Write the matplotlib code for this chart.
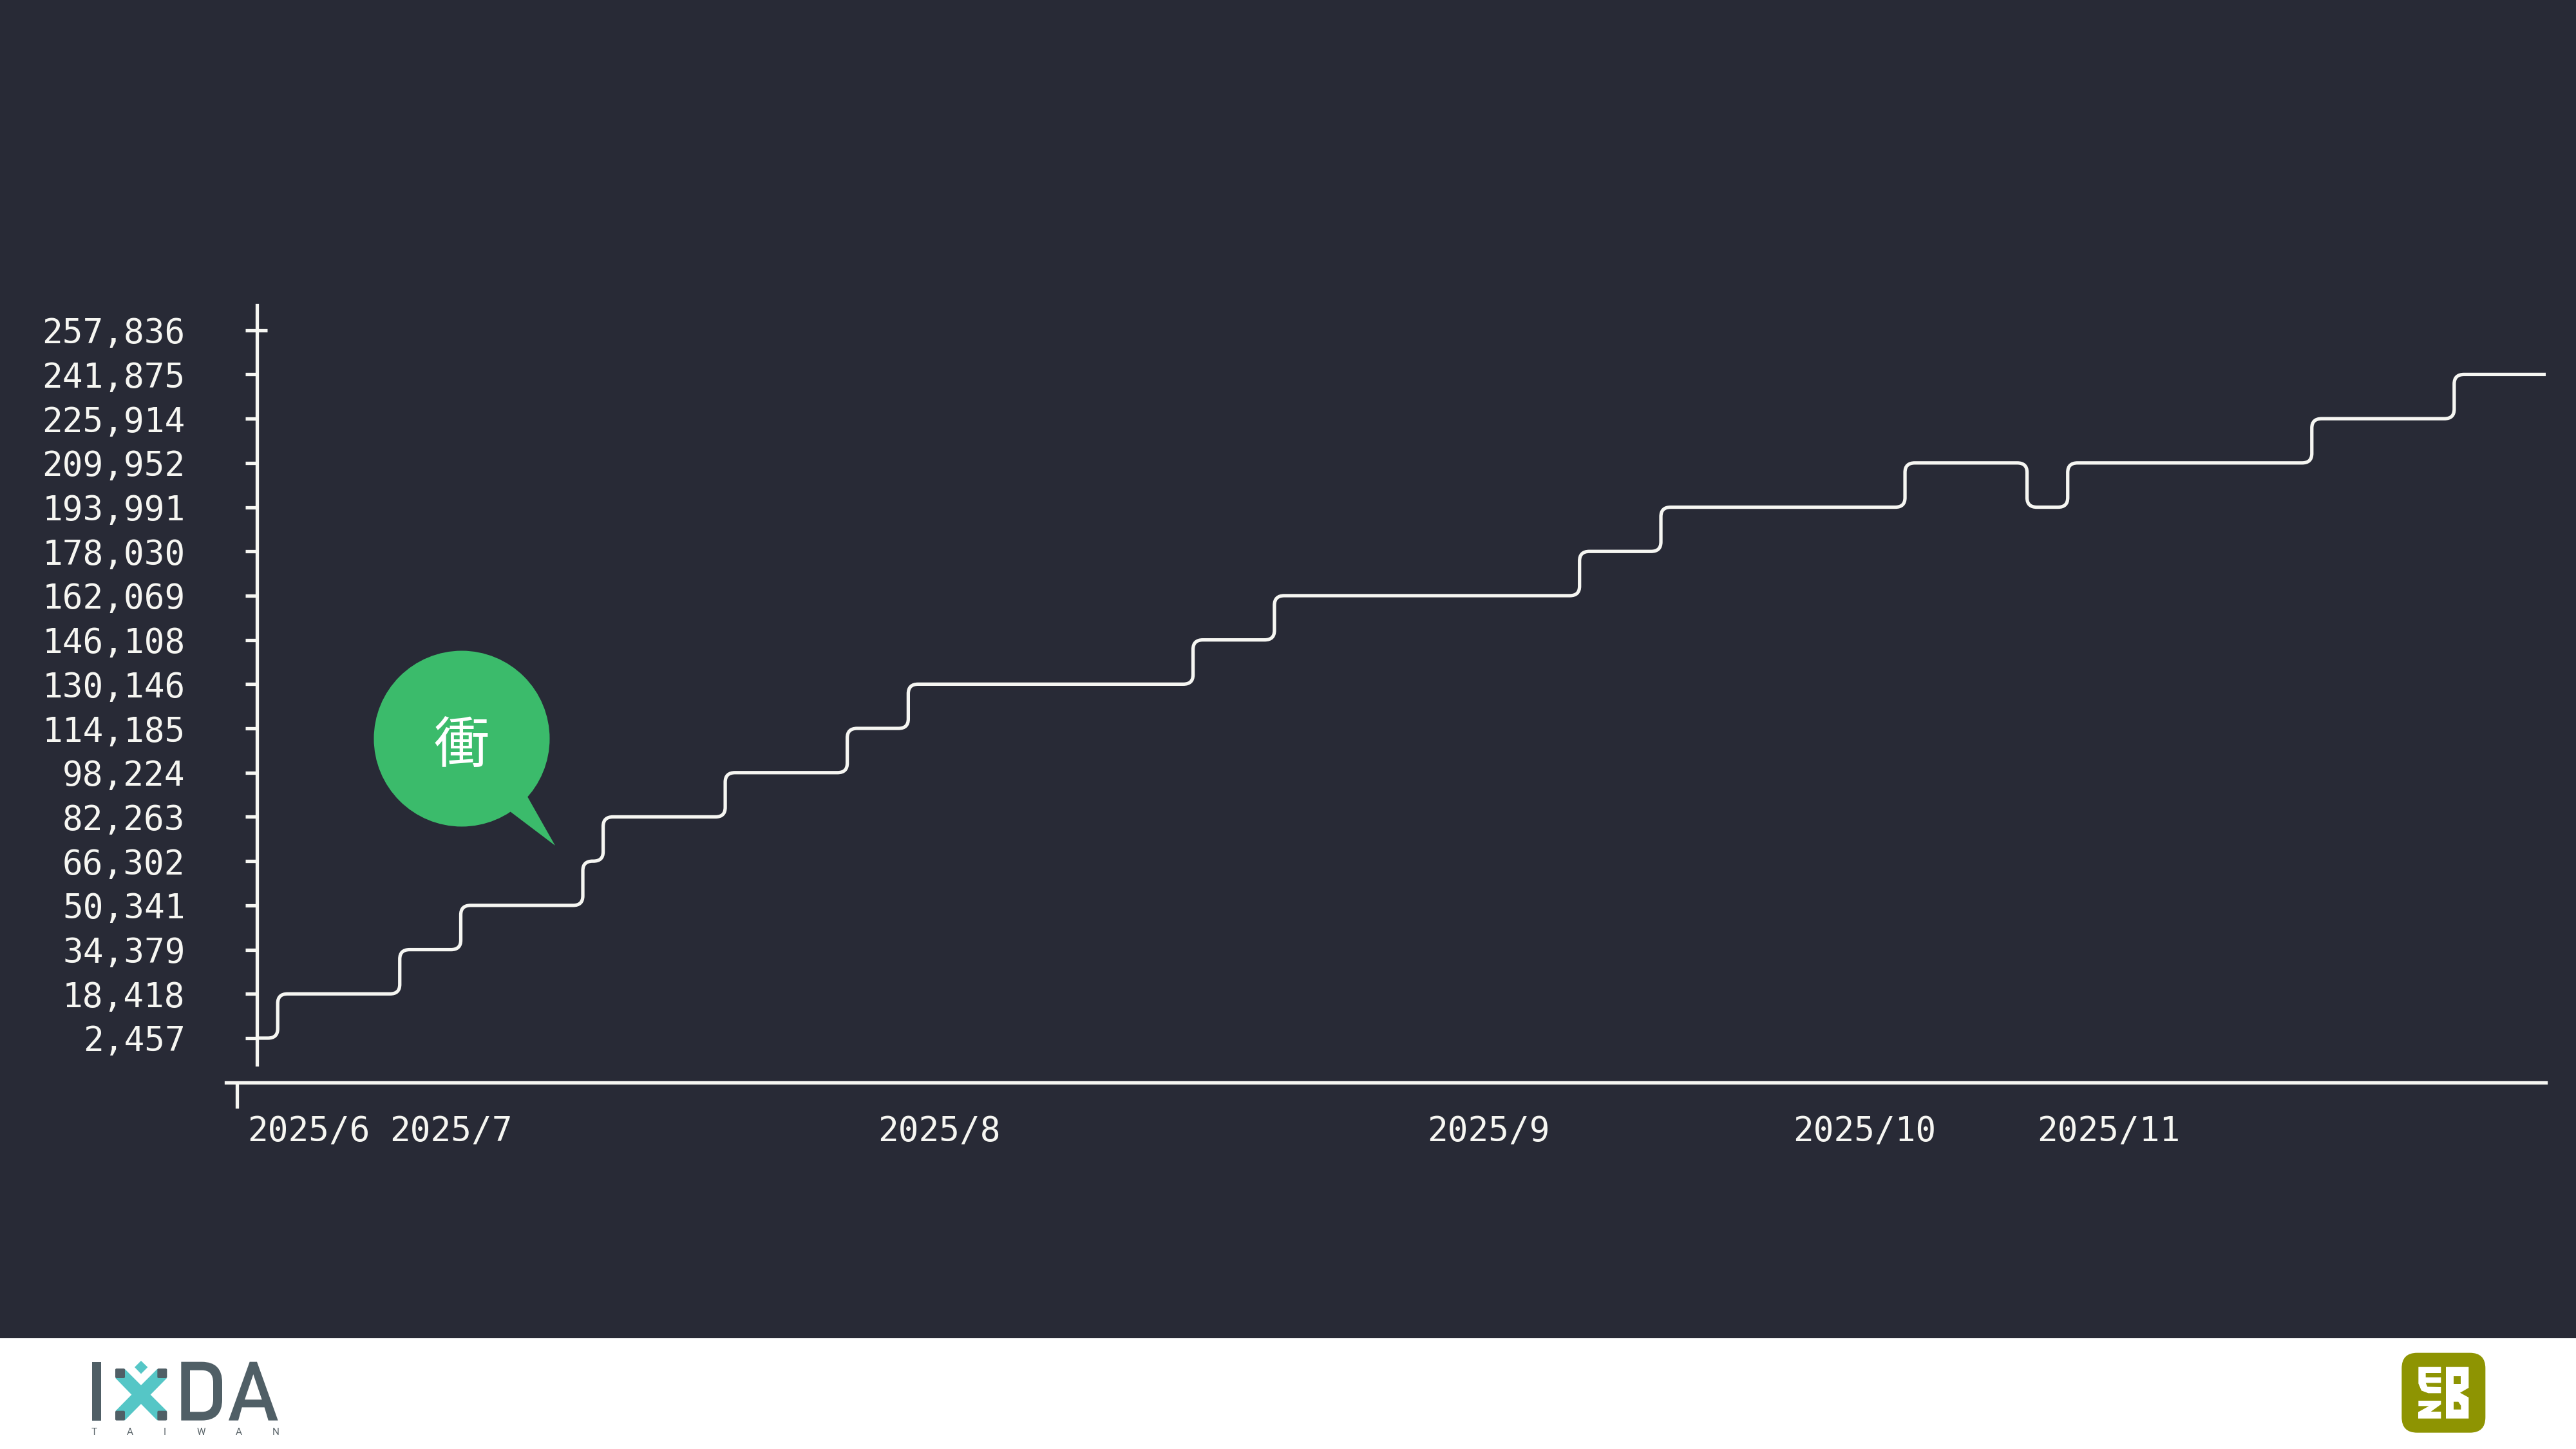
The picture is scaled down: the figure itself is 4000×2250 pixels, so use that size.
import matplotlib
matplotlib.use("Agg")
import matplotlib.pyplot as plt
from matplotlib.path import Path
from matplotlib.patches import PathPatch, Circle, Polygon, Rectangle, FancyBboxPatch
from matplotlib.transforms import ScaledTranslation

# chart values (x = trading-day index on the category axis)
step_days = [1, 2, 8, 11, 17, 18, 24, 30, 33, 47, 51, 66, 70, 82, 88, 90, 102, 109]
step_levels = [2457, 18418, 34379, 50341, 66302, 82263, 98224, 114185, 130146,
               146108, 162069, 178030, 193991, 209952, 193991, 209952, 225914, 241875]
end_day = 113.5

y_ticks = [2457, 18418, 34379, 50341, 66302, 82263, 98224, 114185, 130146,
           146108, 162069, 178030, 193991, 209952, 225914, 241875, 257836]
x_ticks = [0, 7, 31, 58, 76, 88]
x_labels = ["2025/6", "2025/7", "2025/8", "2025/9", "2025/10", "2025/11"]

BG = "#282a36"
WHITE = "#f6f6f2"
GREEN = "#3bbb6b"
TEAL = "#55c6c6"
SLATE = "#505f66"
OLIVE = "#8e9402"
MONO = "DejaVu Sans Mono"
LW = 3.8


def rounded_steps(days, levels, end, rx, ry):
    # step line with small rounded corners at every level change
    verts = [(days[0], levels[0])]
    codes = [Path.MOVETO]
    for i in range(1, len(days)):
        x, a, b = days[i], levels[i - 1], levels[i]
        s = 1 if b > a else -1
        verts += [(x - rx, a), (x, a), (x, a + s * ry), (x, b - s * ry), (x, b), (x + rx, b)]
        codes += [Path.LINETO, Path.CURVE3, Path.CURVE3, Path.LINETO, Path.CURVE3, Path.CURVE3]
    verts.append((end, levels[-1]))
    codes.append(Path.LINETO)
    return Path(verts, codes)


fig = plt.figure(figsize=(40, 22.5), dpi=100, facecolor=BG)

# main chart
ax = fig.add_axes([351 / 4000, 1 - 1681 / 2250, (3953 - 351) / 4000, (1681 - 474) / 2250])
ax.set_facecolor("none")
ax.set_xlim(-0.54, end_day)
ax.set_ylim(-13574, 266830)
ax.add_patch(PathPatch(rounded_steps(step_days, step_levels, end_day, 0.48, 3400),
                       fill=False, edgecolor=WHITE, lw=LW, capstyle="butt"))

for side in ["top", "right"]:
    ax.spines[side].set_visible(False)
ax.spines["left"].set_position(("data", 0.97))
ax.spines["left"].set_bounds(-7068, 266830)
ax.spines["left"].set_color(WHITE)
ax.spines["left"].set_linewidth(LW)
ax.spines["bottom"].set_color(WHITE)
ax.spines["bottom"].set_linewidth(LW)

ax.set_yticks(y_ticks)
ax.set_yticklabels([f"{v:,}" for v in y_ticks], family=MONO, fontsize=38, color=WHITE)
ax.tick_params(axis="y", length=13, width=LW, color=WHITE, pad=67)
ax.plot([1, 1.5], [y_ticks[-1], y_ticks[-1]], color=WHITE, lw=LW, solid_capstyle="butt")

ax.set_xticks(x_ticks)
ax.set_xticklabels(x_labels, family=MONO, fontsize=38, color=WHITE, ha="left")
ax.tick_params(axis="x", length=29, width=LW, color=WHITE, pad=7)
for lab in ax.get_xticklabels():
    lab.set_transform(lab.get_transform() + ScaledTranslation(16 / 100, 0, fig.dpi_scale_trans))
for t in ax.xaxis.get_major_ticks()[1:]:
    t.tick1line.set_visible(False)

# overlay in pixel coordinates: speech bubble, footer band, logos
deco = fig.add_axes([0, 0, 1, 1])
deco.set_xlim(0, 4000)
deco.set_ylim(2250, 0)
deco.axis("off")
deco.patch.set_alpha(0)

deco.add_patch(Circle((717, 1147), 136.5, color=GREEN, lw=0))
deco.add_patch(Polygon([(819, 1237), (792, 1260), (862, 1313)], color=GREEN, lw=0))
deco.text(717, 1160, "衝", family=["Noto Sans CJK TC", "DejaVu Sans"], fontsize=62, color="white",
          ha="center", va="center")

deco.add_patch(Rectangle((0, 2078), 4000, 172, color="white", lw=0))


def ix(p):  # logo sketch coordinates to figure pixels
    return (60 + p[0] / 3, 2060 + p[1] / 3)


def ez(p):
    return (3680 + p[0] / 3, 2070 + p[1] / 3)


def poly(pts, conv, color):
    deco.add_patch(Polygon([conv(p) for p in pts], color=color, lw=0))


# IxDA logo
poly([(248, 164), (291, 164), (291, 437), (248, 437)], ix, SLATE)
poly([(401, 197), (477, 273), (553, 197), (597, 240), (521, 317), (597, 393), (553, 437),
      (477, 360), (401, 437), (358, 393), (433, 317), (358, 240)], ix, TEAL)
for sx, sy in [(357, 195), (553, 195), (357, 392), (553, 392)]:
    x0, y0 = ix((sx, sy))
    deco.add_patch(FancyBboxPatch((x0 + 2, y0 + 2), 11, 11, boxstyle="round,pad=2,rounding_size=2",
                                  color=SLATE, lw=0))
poly([(477, 159), (508, 189), (477, 220), (447, 189)], ix, TEAL)

d_verts = [(664, 164), (760, 164), (855, 164), (855, 260), (855, 340), (855, 437), (760, 437),
           (664, 437), (664, 164),
           (705, 203), (705, 397), (760, 397), (813, 397), (813, 340), (813, 260), (813, 203),
           (760, 203), (705, 203)]
d_codes = [Path.MOVETO, Path.LINETO, Path.CURVE3, Path.CURVE3, Path.LINETO, Path.CURVE3, Path.CURVE3,
           Path.LINETO, Path.CLOSEPOLY,
           Path.MOVETO, Path.LINETO, Path.LINETO, Path.CURVE3, Path.CURVE3, Path.LINETO, Path.CURVE3,
           Path.CURVE3, Path.CLOSEPOLY]
deco.add_patch(PathPatch(Path([ix(p) for p in d_verts], d_codes), color=SLATE, lw=0))

a_verts = [(885, 437), (983, 164), (1017, 164), (1115, 437), (1070, 437), (1052, 376), (947, 376),
           (930, 437), (885, 437),
           (960, 340), (1040, 340), (1000, 222), (960, 340)]
a_codes = [Path.MOVETO] + [Path.LINETO] * 7 + [Path.CLOSEPOLY] + [Path.MOVETO, Path.LINETO, Path.LINETO, Path.CLOSEPOLY]
deco.add_patch(PathPatch(Path([ix(p) for p in a_verts], a_codes), color=SLATE, lw=0))

for letter, lx in zip("TAIWAN", [259, 425, 588, 757, 931, 1104]):
    px, py = ix((lx, 491))
    deco.text(px, py, letter, family="Roboto", fontsize=11, color="#5a6469", ha="center", va="center")

# EZB logo
x0, y0 = ez((148, 92))
deco.add_patch(FancyBboxPatch((x0 + 24, y0 + 24), 130 - 48, 124 - 48,
                              boxstyle="round,pad=24,rounding_size=24", color=OLIVE, lw=0))
poly([(226, 158), (331, 158), (331, 186), (260, 186), (260, 206), (331, 206), (331, 232), (260, 232),
      (268, 250), (331, 252), (331, 280), (272, 280), (240, 268), (226, 235)], ez, "white")
poly([(226, 315), (331, 315), (331, 332), (284, 366), (331, 366), (331, 398), (225, 398),
      (225, 368), (275, 340), (226, 340)], ez, "white")
poly([(354, 158), (460, 158), (460, 255), (420, 278), (460, 300), (460, 398), (354, 398)], ez, "white")
poly([(390, 202), (424, 202), (424, 236), (390, 236)], ez, OLIVE)
poly([(390, 320), (412, 320), (424, 338), (424, 356), (390, 356)], ez, OLIVE)

fig.savefig("out.png", dpi=100, facecolor=BG)
